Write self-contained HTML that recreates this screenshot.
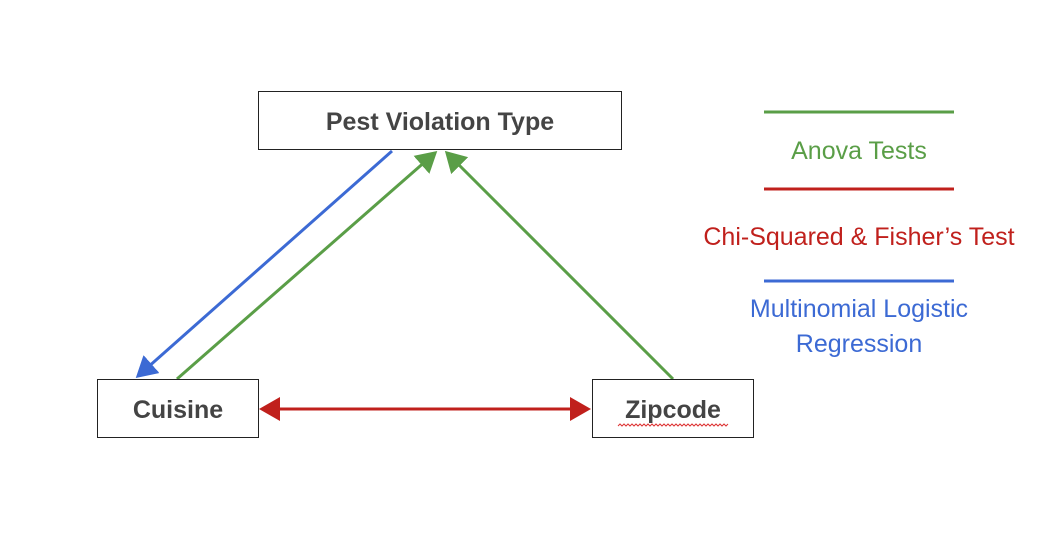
<!DOCTYPE html>
<html><head><style>
body{margin:0;background:#fff;}
.box{position:absolute;border:1.5px solid #222;background:#fff;box-sizing:border-box;display:flex;align-items:center;justify-content:center;font-family:"Liberation Sans",sans-serif;font-weight:bold;font-size:25px;color:#444;padding-top:4px;}
.t{position:absolute;font-family:"Liberation Sans",sans-serif;font-size:25px;text-align:center;}
</style></head><body>
<div style="position:relative;width:1062px;height:555px;overflow:hidden">
<svg width="1062" height="555" style="position:absolute;left:0;top:0">
<defs>
<marker id="g" markerWidth="8" markerHeight="8" refX="6" refY="4" orient="auto" markerUnits="strokeWidth"><path d="M0,0 L7,4 L0,8 z" fill="#5a9e47"/></marker>
<marker id="b" markerWidth="8" markerHeight="8" refX="6" refY="4" orient="auto" markerUnits="strokeWidth"><path d="M0,0 L7,4 L0,8 z" fill="#3c6ad4"/></marker>
<marker id="r" markerWidth="8" markerHeight="8" refX="6" refY="4" orient="auto" markerUnits="strokeWidth"><path d="M0,0 L7,4 L0,8 z" fill="#c0201c"/></marker>
</defs>
<line x1="392" y1="151" x2="138" y2="376" stroke="#3c6ad4" stroke-width="3" marker-end="url(#b)"/>
<line x1="177" y1="379" x2="435" y2="153" stroke="#5a9e47" stroke-width="3" marker-end="url(#g)"/>
<line x1="673" y1="379" x2="447" y2="153" stroke="#5a9e47" stroke-width="3" marker-end="url(#g)"/>
<line x1="275" y1="409" x2="588" y2="409" stroke="#c0201c" stroke-width="3" marker-end="url(#r)"/>
<line x1="575" y1="409" x2="262" y2="409" stroke="#c0201c" stroke-width="3" marker-end="url(#r)"/>
<line x1="764" y1="112" x2="954" y2="112" stroke="#5a9e47" stroke-width="3"/>
<line x1="764" y1="189" x2="954" y2="189" stroke="#c0201c" stroke-width="3"/>
<line x1="764" y1="281" x2="954" y2="281" stroke="#3c6ad4" stroke-width="3"/>
</svg>
<div class="box" style="left:258px;top:91px;width:364px;height:59px">Pest Violation Type</div>
<div class="box" style="left:97px;top:379px;width:162px;height:59px">Cuisine</div>
<div class="box" style="left:592px;top:379px;width:162px;height:59px">Zipcode</div>
<svg width="1062" height="555" style="position:absolute;left:0;top:0">
<path d="M618,426 l2,-2 l2,2 l2,-2 l2,2 l2,-2 l2,2 l2,-2 l2,2 l2,-2 l2,2 l2,-2 l2,2 l2,-2 l2,2 l2,-2 l2,2 l2,-2 l2,2 l2,-2 l2,2 l2,-2 l2,2 l2,-2 l2,2 l2,-2 l2,2 l2,-2 l2,2 l2,-2 l2,2 l2,-2 l2,2 l2,-2 l2,2 l2,-2 l2,2 l2,-2 l2,2 l2,-2 l2,2 l2,-2 l2,2 l2,-2 l2,2 l2,-2 l2,2 l2,-2 l2,2 l2,-2 l2,2 l2,-2 l2,2 l2,-2 l2,2 l2,-2" fill="none" stroke="#d33" stroke-width="1"/>
</svg>
<div class="t" style="left:700px;top:137px;width:318px;color:#5a9e47">Anova Tests</div>
<div class="t" style="left:670px;top:223px;width:378px;color:#c0201c">Chi-Squared &amp; Fisher’s Test</div>
<div class="t" style="left:700px;top:292px;width:318px;color:#3c6ad4;line-height:35px">Multinomial Logistic<br>Regression</div>
</div>
</body></html>
